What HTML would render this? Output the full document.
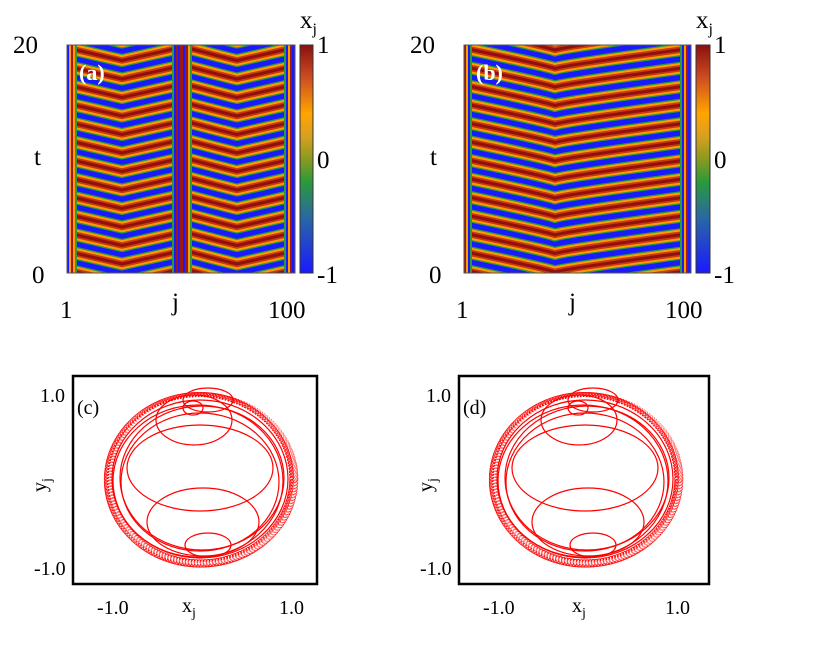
<!DOCTYPE html>
<html><head><meta charset="utf-8"><style>
body{margin:0;background:#fff;}
svg text{font-family:"Liberation Serif",serif;fill:#000;}
</style></head><body>
<svg id="s" width="830" height="658" viewBox="0 0 830 658" xmlns="http://www.w3.org/2000/svg">
<defs>
<linearGradient id="cb" x1="0" y1="1" x2="0" y2="0">
<stop offset="0" stop-color="#1a1aff"/><stop offset="0.25" stop-color="#2a6aa0"/>
<stop offset="0.4" stop-color="#2a9a3a"/><stop offset="0.5" stop-color="#8a9a20"/>
<stop offset="0.6" stop-color="#d8a020"/><stop offset="0.7" stop-color="#ffa500"/>
<stop offset="0.85" stop-color="#d05020"/><stop offset="1" stop-color="#8a1010"/>
</linearGradient>
<clipPath id="ca"><rect x="67" y="45" width="228" height="228"/></clipPath>
<clipPath id="cbp"><rect x="464" y="45" width="227" height="228"/></clipPath>
</defs>
<g id="pa" clip-path="url(#ca)"><rect x="67" y="45" width="228" height="228" fill="#1a1aff"/></g>
<g id="pb" clip-path="url(#cbp)"><rect x="464" y="45" width="227" height="228" fill="#1a1aff"/></g>
<rect x="67" y="45" width="228" height="228" fill="none" stroke="#555" stroke-width="1"/>
<rect x="464" y="45" width="227" height="228" fill="none" stroke="#555" stroke-width="1"/>
<rect x="300" y="45" width="13" height="228" fill="url(#cb)" stroke="#333"/>
<rect x="696" y="45" width="14" height="228" fill="url(#cb)" stroke="#333"/>
<text x="79" y="80" font-size="22" font-weight="bold" style="fill:#fff">(a)</text>
<text x="476" y="80" font-size="22" font-weight="bold" style="fill:#fff">(b)</text>
<g font-size="25">
<text x="13" y="53">20</text><text x="32" y="283">0</text>
<text x="34" y="165">t</text>
<text x="60" y="318">1</text><text x="172" y="310">j</text><text x="268" y="318">100</text>
<text x="317" y="53">1</text><text x="317" y="168">0</text><text x="317" y="283">-1</text>
<text x="300" y="28">x<tspan font-size="16" dy="6">j</tspan></text>
<text x="410" y="53">20</text><text x="429" y="283">0</text>
<text x="430" y="165">t</text>
<text x="456" y="318">1</text><text x="569" y="310">j</text><text x="665" y="318">100</text>
<text x="714" y="53">1</text><text x="714" y="168">0</text><text x="714" y="283">-1</text>
<text x="696" y="28">x<tspan font-size="16" dy="6">j</tspan></text>
</g>
<rect x="73" y="376" width="244" height="208" fill="none" stroke="#000" stroke-width="2.5"/>
<rect x="459" y="376" width="250" height="208" fill="none" stroke="#000" stroke-width="2.5"/>
<g id="pc" fill="none" stroke="#f00" stroke-width="1.2"></g>
<g id="pd" fill="none" stroke="#f00" stroke-width="1.2"></g>
<g font-size="20">
<text x="77" y="414">(c)</text><text x="463" y="414">(d)</text>
<text x="40" y="402">1.0</text><text x="34" y="575">-1.0</text>
<text x="97" y="614">-1.0</text><text x="279" y="614">1.0</text>
<text x="182" y="612">x<tspan font-size="14" dy="5">j</tspan></text>
<text transform="translate(46,492) rotate(-90)">y<tspan font-size="14" dy="5">j</tspan></text>
<text x="426" y="402">1.0</text><text x="420" y="575">-1.0</text>
<text x="483" y="614">-1.0</text><text x="665" y="614">1.0</text>
<text x="572" y="612">x<tspan font-size="14" dy="5">j</tspan></text>
<text transform="translate(432,492) rotate(-90)">y<tspan font-size="14" dy="5">j</tspan></text>
</g>
</svg>
<script>
var NS="http://www.w3.org/2000/svg";
function el(p,t,a){var e=document.createElementNS(NS,t);for(var k in a)e.setAttribute(k,a[k]);p.appendChild(e);return e;}
function chev(g,segs,per){
 for(var y0=30;y0<300;y0+=per){
  segs.forEach(function(s){
   var d="M"+s[0]+","+(y0)+" Q"+(s[1]-8)+","+(y0+s[3]*0.85)+" "+s[1]+","+(y0+s[3])+" Q"+(s[1]+8)+","+(y0+s[3]*0.85)+" "+s[2]+","+y0;
   el(g,"path",{d:d,fill:"none",stroke:"#2a9a3a","stroke-width":13,"stroke-linejoin":"round"});
   el(g,"path",{d:d,fill:"none",stroke:"#ff9a00","stroke-width":10.5,"stroke-linejoin":"round"});
   el(g,"path",{d:d,fill:"none",stroke:"#c83a10","stroke-width":6.5,"stroke-linejoin":"round"});
   el(g,"path",{d:d,fill:"none",stroke:"#901010","stroke-width":3,"stroke-linejoin":"round"});
  });
 }
}
function vs(g,xs){xs.forEach(function(v){el(g,"rect",{x:v[0],y:45,width:v[1],height:228,fill:v[2]});});}
var pa=document.getElementById("pa"),pb=document.getElementById("pb");
chev(pa,[[70,122,176,12],[190,237,290,12]],18.5);
chev(pb,[[466,555,690,20]],18.5);
vs(pa,[[67,2,"#1a1aff"],[69,2,"#ff9a00"],[71,2,"#a01810"],[73,2,"#ff9a00"],[75,2,"#2a9a3a"],
 [172,2,"#2a9a3a"],[174,2,"#1a1aff"],[176,2,"#a01810"],[178,2,"#1a1aff"],[180,3,"#a01810"],[183,2,"#1a1aff"],[185,3,"#a01810"],[188,2,"#ff9a00"],[190,2,"#2a9a3a"],
 [284,2,"#2a9a3a"],[286,2,"#1a1aff"],[288,2,"#ff9a00"],[290,2,"#a01810"],[292,3,"#1a1aff"]]);
vs(pb,[[464,2,"#a01810"],[466,2,"#ff9a00"],[468,2,"#1a1aff"],[470,2,"#2a9a3a"],
 [680,2,"#2a9a3a"],[682,2,"#1a1aff"],[684,2,"#ff9a00"],[686,2,"#a01810"],[688,3,"#1a1aff"]]);
function orb(g,cx,cy){
 for(var i=0;i<30;i++){var a=i/30*6.28;
  el(g,"ellipse",{cx:cx+3*Math.cos(a),cy:cy+3*Math.sin(a),rx:95-i*0.15,ry:86-i*0.1,"stroke-width":0.5,"stroke-dasharray":"1.5 1.5"});}
 [[0,0,88,79],[-2,2,85,76],[2,-1,82,72],[0,3,79,69]].forEach(function(e){el(g,"ellipse",{cx:cx+e[0],cy:cy+e[1],rx:e[2],ry:e[3]});});
 el(g,"ellipse",{cx:cx,cy:cy-11,rx:73,ry:43});
 el(g,"ellipse",{cx:cx+3,cy:cy+43,rx:56,ry:34});
 el(g,"ellipse",{cx:cx-6,cy:cy-59,rx:38,ry:25});
 el(g,"ellipse",{cx:cx-7,cy:cy-71,rx:10,ry:7});
 el(g,"ellipse",{cx:cx+8,cy:cy-79,rx:25,ry:12});
 el(g,"ellipse",{cx:cx+8,cy:cy+66,rx:23,ry:12});
}
orb(document.getElementById("pc"),200,479);
orb(document.getElementById("pd"),585,479);
</script>
</body></html>
